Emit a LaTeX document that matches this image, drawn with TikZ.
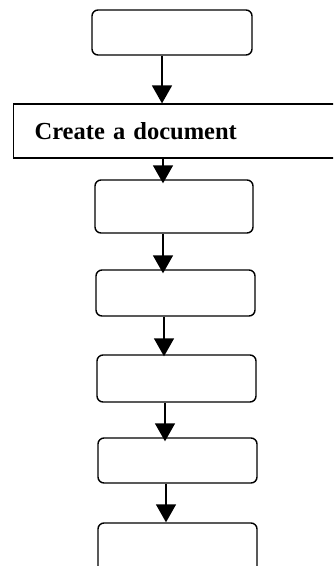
\documentclass[tikz,border=0pt]{standalone}
\usepackage{fontspec}
\setmainfont{Liberation Serif}
\usetikzlibrary{arrows.meta}
\begin{document}
\begin{tikzpicture}[x=1pt,y=-1pt,
  stepbox/.style={draw=black,line width=1.4pt,rounded corners=6pt,inner sep=0pt},
  docbox/.style={draw=black,line width=1.2pt,inner sep=0pt,inner xsep=21pt,
    text width=290pt,align=left,minimum height=54pt,
    font=\fontsize{24.5}{28}\selectfont\bfseries},
  arr/.style={line width=1.5pt,-{Triangle[width=20pt,length=18pt]}}]
\useasboundingbox (0,0) rectangle (333,566);
\begin{scope}
\clip (0,0) rectangle (333,566);
% flow steps
\node[stepbox,minimum width=160pt,minimum height=45pt] (s1) at (172,32.5) {};
\node[docbox,anchor=west] (doc) at (13,131) {Create a document};
\node[stepbox,minimum width=158pt,minimum height=53pt] (s3) at (174,206.5) {};
\node[stepbox,minimum width=159pt,minimum height=46pt] (s4) at (175.5,293) {};
\node[stepbox,minimum width=159pt,minimum height=47pt] (s5) at (176.5,378.5) {};
\node[stepbox,minimum width=159pt,minimum height=45pt] (s6) at (177.5,460.5) {};
\node[stepbox,minimum width=159pt,minimum height=54pt] (s7) at (177.5,550) {};
% arrow columns
\coordinate (x1) at (162,0);
\coordinate (x2) at (163,0);
\coordinate (x3) at (163,0);
\coordinate (x4) at (164,0);
\coordinate (x5) at (165,0);
\coordinate (x6) at (166,0);
% connectors
\draw[arr] (s1.south -| x1) -- (doc.north -| x1);
\draw[arr,shorten >=-4pt] (doc.south -| x2) -- (s3.north -| x2);
\draw[arr,shorten >=-4pt] (s3.south -| x3) -- (s4.north -| x3);
\draw[arr,shorten >=-2pt] (s4.south -| x4) -- (s5.north -| x4);
\draw[arr,shorten >=-4pt] (s5.south -| x5) -- (s6.north -| x5);
\draw[arr] (s6.south -| x6) -- (s7.north -| x6);
\end{scope}
\end{tikzpicture}
\end{document}
